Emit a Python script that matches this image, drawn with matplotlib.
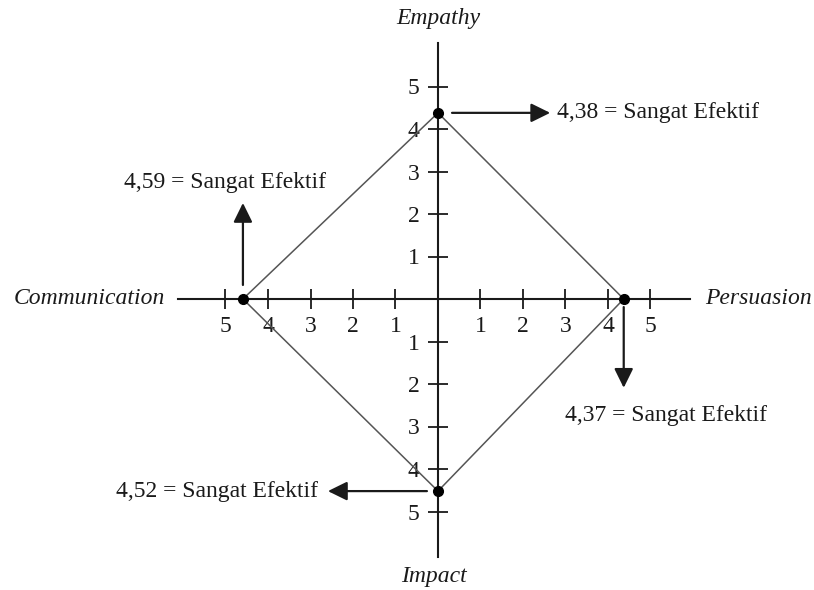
import matplotlib.pyplot as plt
from matplotlib.ticker import FixedLocator, FuncFormatter

# data
dimensions = ['Empathy', 'Persuasion', 'Impact', 'Communication']
scores = [4.38, 4.37, 4.52, 4.59]
score_labels = ['4,38', '4,37', '4,52', '4,59']
category = 'Sangat Efektif'
tick_values = [-5, -4, -3, -2, -1, 1, 2, 3, 4, 5]

# direction of each dimension on the cross
directions = {'Empathy': (0, 1), 'Persuasion': (1, 0),
              'Impact': (0, -1), 'Communication': (-1, 0)}

# arrow start, arrow tip, text position (relative to the dot) and alignment
callouts = {
    'Empathy': ((0.33, 0), (2.64, 0), (2.8, 0), 'left'),
    'Persuasion': ((0, -0.19), (0, -2.09), (-1.38, -2.73), 'left'),
    'Impact': ((-0.26, 0), (-2.59, 0), (-2.82, 0), 'right'),
    'Communication': ((0, 0.33), (0, 2.26), (-0.42, 2.73), 'center'),
}

plt.rcParams['font.family'] = ['Liberation Serif', 'DejaVu Serif']
ink = '#1a1a1a'
fs = 17

fig = plt.figure(figsize=(8.14, 5.90), dpi=100)
ax = fig.add_axes([0, 0, 1, 1])
unit = 42.5  # pixels per unit
ax.set_xlim(-438 / unit, (814 - 438) / unit)
ax.set_ylim(-(590 - 299) / unit, 299 / unit)

# axes as a cross through the origin
for side in ['top', 'right']:
    ax.spines[side].set_visible(False)
ax.spines['left'].set_position(('data', 0))
ax.spines['bottom'].set_position(('data', 0))
ax.spines['bottom'].set_bounds(-6.12, 5.93)
ax.spines['left'].set_bounds(-6.07, 6.02)
for side in ['left', 'bottom']:
    ax.spines[side].set_linewidth(1.5)
    ax.spines[side].set_color(ink)

ax.xaxis.set_major_locator(FixedLocator(tick_values))
ax.yaxis.set_major_locator(FixedLocator(tick_values))
absfmt = FuncFormatter(lambda v, p: f'{abs(int(round(v)))}')
ax.xaxis.set_major_formatter(absfmt)
ax.yaxis.set_major_formatter(absfmt)
ax.tick_params(direction='inout', length=14.4, width=1.3, color=ink,
               labelsize=fs, labelcolor=ink)
ax.tick_params(axis='x', pad=5)
ax.tick_params(axis='y', pad=6)

# diamond connecting the scores
xs = [directions[d][0] * s for d, s in zip(dimensions, scores)]
ys = [directions[d][1] * s for d, s in zip(dimensions, scores)]
ax.plot(xs + xs[:1], ys + ys[:1], color='#555555', lw=1.1, zorder=3)
ax.plot(xs, ys, 'o', color='black', markersize=7, zorder=4)

# callouts
for d, x, y, lab in zip(dimensions, xs, ys, score_labels):
    start, tip, tpos, ha = callouts[d]
    ax.annotate('', xy=(x + tip[0], y + tip[1]),
                xytext=(x + start[0], y + start[1]),
                arrowprops=dict(arrowstyle='-|>,head_length=0.65,head_width=0.32',
                                mutation_scale=18, color=ink, lw=1.6,
                                shrinkA=0, shrinkB=0))
    ax.text(x + tpos[0], y + tpos[1], f'{lab} = {category}',
            ha=ha, va='center', fontsize=fs, color=ink)

# axis names
ax.text(0, 6.61, 'Empathy', ha='center', va='center', style='italic',
        fontsize=fs, color=ink)
ax.text(-0.1, -6.54, 'Impact', ha='center', va='center', style='italic',
        fontsize=fs, color=ink)
ax.text(-6.42, 0, 'Communication', ha='right', va='center', style='italic',
        fontsize=fs, color=ink)
ax.text(6.28, 0, 'Persuasion', ha='left', va='center', style='italic',
        fontsize=fs, color=ink)

fig.savefig('out.png', dpi=100)
